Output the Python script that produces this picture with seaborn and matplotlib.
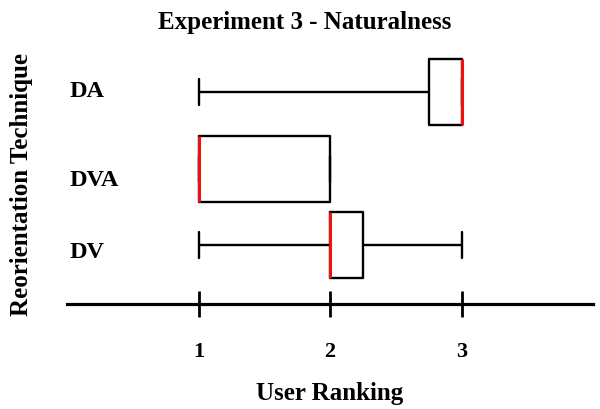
import numpy as np
import pandas as pd
import matplotlib
matplotlib.use("Agg")
import matplotlib.pyplot as plt
import matplotlib.transforms as mtransforms
import seaborn as sns

# ---- data (rankings per technique, read from the box/whisker stats) ----
techniques = ["DA", "DVA", "DV"]
ranks_DA = [1, 2, 3, 3, 3, 3, 3, 3]
ranks_DVA = [1, 1, 1, 1, 1, 2, 2, 2]
ranks_DV = [1, 2, 2, 2, 2, 2, 3, 3]
x_ticks = [1, 2, 3]
x_ticklabels = ["1", "2", "3"]
title = "Experiment 3 - Naturalness"
xlabel = "User Ranking"
ylabel = "Reorientation Technique"

df = pd.DataFrame({
    "Technique": (["DA"] * len(ranks_DA) + ["DVA"] * len(ranks_DVA)
                  + ["DV"] * len(ranks_DV)),
    "Ranking": ranks_DA + ranks_DVA + ranks_DV,
})

sns.set_theme(style="white")
plt.rcParams["font.family"] = ["Liberation Serif", "DejaVu Serif"]
plt.rcParams["font.weight"] = "bold"
plt.rcParams["text.color"] = "black"
plt.rcParams["axes.labelcolor"] = "black"
plt.rcParams["xtick.color"] = "black"
plt.rcParams["ytick.color"] = "black"

fig = plt.figure(figsize=(6.0, 4.09), dpi=100)
ax = fig.add_axes([67 / 600, (409 - 304) / 409, 526 / 600, 250 / 409])

sns.boxplot(
    data=df, x="Ranking", y="Technique", order=techniques, orient="h",
    fill=False, color="black", linewidth=1.7, width=0.863,
    whis=(0, 100), showfliers=False, capwidths=0.34,
    medianprops=dict(color="#ee1111", linewidth=2.2),
    ax=ax,
)

ax.set_xlim(0, 4)
ax.set_ylim(2.77, -0.5)

for s in ["left", "top", "right"]:
    ax.spines[s].set_visible(False)
ax.spines["bottom"].set_linewidth(2.3)
ax.spines["bottom"].set_color("black")

ax.set_xticks(x_ticks)
ax.set_xticklabels(x_ticklabels, fontsize=16, fontweight="bold", color="black")
ax.tick_params(axis="x", direction="inout", length=19, width=2,
               color="black", labelcolor="black", pad=18, bottom=True)
ax.tick_params(axis="y", length=0, pad=-1.5, labelcolor="black")
ax.set_yticks(range(len(techniques)))
ax.set_yticklabels(techniques, fontsize=17.5, fontweight="bold", color="black")
offsets_px = [3, -9, -5]
for lab, dy in zip(ax.get_yticklabels(), offsets_px):
    lab.set_ha("left")
    lab.set_transform(lab.get_transform() + mtransforms.ScaledTranslation(
        0, dy / 100, fig.dpi_scale_trans))

ax.set_xlabel(xlabel, fontsize=18, fontweight="bold", labelpad=14, color="black")
ax.set_ylabel(ylabel, fontsize=18, fontweight="bold", color="black")
ax.yaxis.set_label_coords(-0.065, 0.476)
fig.text(305 / 600, 1 - 22 / 409, title, fontsize=18, fontweight="bold",
         ha="center", va="center", color="black")

fig.savefig("out.png", dpi=100, facecolor="white")
